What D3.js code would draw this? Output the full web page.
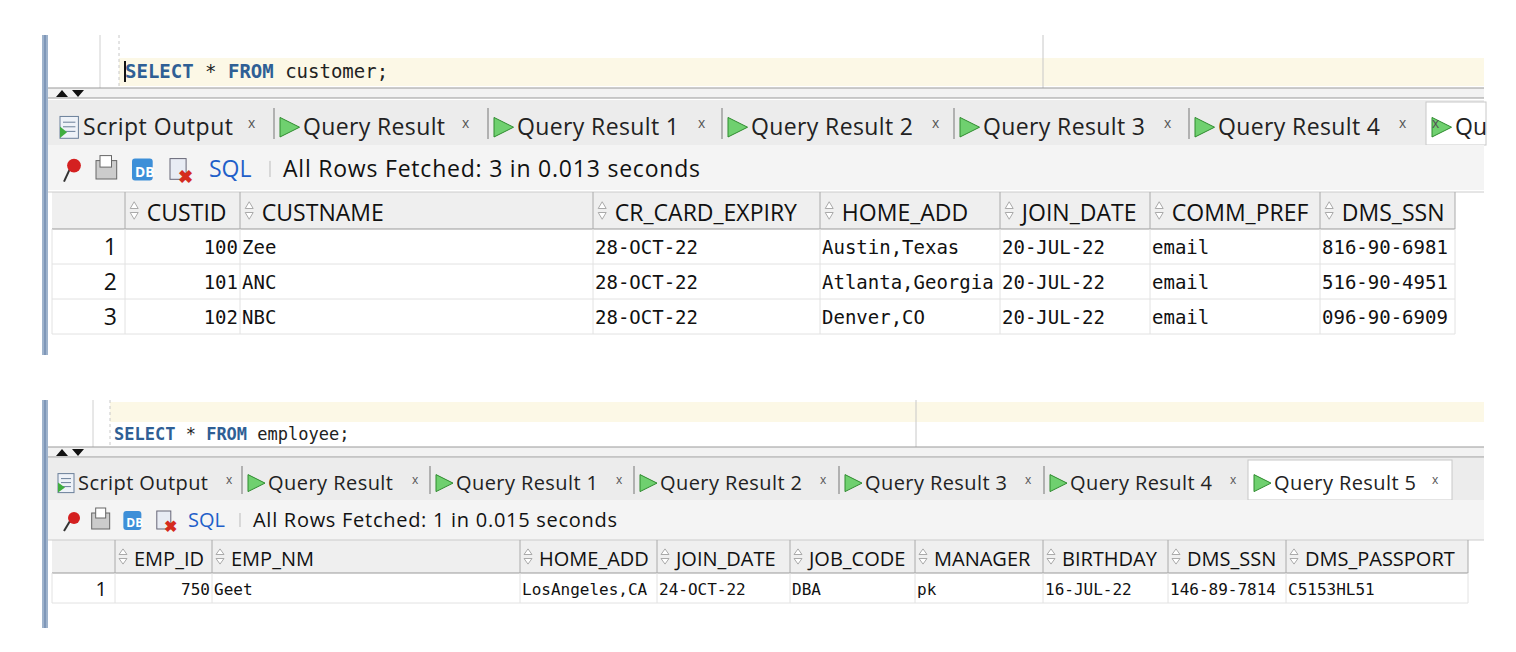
<!DOCTYPE html>
<html><head><meta charset="utf-8">
<script src="https://cdn.jsdelivr.net/npm/d3@7"></script>
<style>body{margin:0;background:#fff}svg{display:block}</style>
</head><body>
<script>
const W = 1516, H = 652;

// Data: customer query
const custQuery = ["SELECT", " * ", "FROM", " customer;"];
const custTabs = ["Script Output", "Query Result", "Query Result 1", "Query Result 2", "Query Result 3", "Query Result 4", "Qu"];
const custStatus = "All Rows Fetched: 3 in 0.013 seconds";
const custCols = ["CUSTID", "CUSTNAME", "CR_CARD_EXPIRY", "HOME_ADD", "JOIN_DATE", "COMM_PREF", "DMS_SSN"];
const custRows = [
  ["100", "Zee", "28-OCT-22", "Austin,Texas", "20-JUL-22", "email", "816-90-6981"],
  ["101", "ANC", "28-OCT-22", "Atlanta,Georgia", "20-JUL-22", "email", "516-90-4951"],
  ["102", "NBC", "28-OCT-22", "Denver,CO", "20-JUL-22", "email", "096-90-6909"]
];

// Data: employee query
const empQuery = ["SELECT", " * ", "FROM", " employee;"];
const empTabs = ["Script Output", "Query Result", "Query Result 1", "Query Result 2", "Query Result 3", "Query Result 4", "Query Result 5"];
const empStatus = "All Rows Fetched: 1 in 0.015 seconds";
const empCols = ["EMP_ID", "EMP_NM", "HOME_ADD", "JOIN_DATE", "JOB_CODE", "MANAGER", "BIRTHDAY", "DMS_SSN", "DMS_PASSPORT"];
const empRows = [
  ["750", "Geet", "LosAngeles,CA", "24-OCT-22", "DBA", "pk", "16-JUL-22", "146-89-7814", "C5153HL51"]
];

const SANS = "'Open Sans', 'Noto Sans', sans-serif";
const MONO = "'DejaVu Sans Mono', monospace";

const svg = d3.select("body").append("svg").attr("width", W).attr("height", H);

function panel(cfg) {
  const g = svg.append("g");
  // left blue bar
  g.append("rect").attr("x", 42).attr("y", cfg.top).attr("width", 6).attr("height", cfg.bottom - cfg.top).attr("fill", "#9fb3cc");
  g.append("rect").attr("x", 44).attr("y", cfg.top).attr("width", 2).attr("height", cfg.bottom - cfg.top).attr("fill", "#7f97b8");

  // editor
  const e = cfg.editor;
  g.append("rect").attr("x", e.hlX).attr("y", e.hlY).attr("width", 1484 - e.hlX).attr("height", e.hlH).attr("fill", "#fcf8e6");
  g.append("line").attr("x1", e.gutter).attr("x2", e.gutter).attr("y1", cfg.top).attr("y2", e.bottom).attr("stroke", "#d0d0d0");
  g.append("line").attr("x1", e.dash).attr("x2", e.dash).attr("y1", cfg.top).attr("y2", e.bottom).attr("stroke", "#c8c8c8").attr("stroke-dasharray", "3,3");
  g.append("line").attr("x1", e.margin).attr("x2", e.margin).attr("y1", cfg.top).attr("y2", e.bottom).attr("stroke", "#c8c8c8");
  const t = g.append("text").attr("x", e.textX).attr("y", e.textY).attr("font-family", MONO).attr("font-size", e.fs).attr("xml:space", "preserve");
  cfg.query.forEach((s, i) => t.append("tspan").text(s)
    .attr("fill", i % 2 === 0 && i < 3 ? "#2f5f95" : "#222").attr("font-weight", i % 2 === 0 && i < 3 ? "bold" : "normal"));
  if (e.caret) g.append("rect").attr("x", e.textX - 1).attr("y", e.textY - 17).attr("width", 2).attr("height", 21).attr("fill", "#111");

  // split bar with arrows
  g.append("rect").attr("x", 48).attr("y", e.bottom).attr("width", 1436).attr("height", 10).attr("fill", "#f2f2f2");
  g.append("line").attr("x1", 48).attr("x2", 1484).attr("y1", e.bottom).attr("y2", e.bottom).attr("stroke", "#999");
  g.append("line").attr("x1", 48).attr("x2", 1484).attr("y1", e.bottom + 10).attr("y2", e.bottom + 10).attr("stroke", "#999");
  const ay = e.bottom + 2;
  g.append("path").attr("d", `M56,${ay + 7}L62,${ay}L68,${ay + 7}Z M72,${ay}L84,${ay}L78,${ay + 7}Z`).attr("fill", "#111");

  // tabs
  const tb = cfg.tabs;
  g.append("rect").attr("x", 48).attr("y", tb.y).attr("width", 1436).attr("height", tb.h).attr("fill", "#ececec");
  tb.names.forEach((name, i) => {
    const x = tb.xs[i];
    const active = i === tb.active;
    if (active) g.append("rect").attr("x", x - 6).attr("y", tb.y + 2).attr("width", tb.activeW).attr("height", tb.h - 2).attr("fill", "#fff").attr("stroke", "#c8c8c8");
    if (i > 0 && !active) g.append("line").attr("x1", x - 6).attr("x2", x - 6).attr("y1", tb.y + 8).attr("y2", tb.y + tb.h - 6).attr("stroke", "#777");
    const iy = tb.base - tb.fs * 0.72;
    if (i === 0) {
      g.append("rect").attr("x", x).attr("y", iy - 2).attr("width", tb.fs * 0.8).attr("height", tb.fs * 0.95).attr("fill", "#eef2f8").attr("stroke", "#6a7f99");
      [0.25, 0.45, 0.65].forEach(f => g.append("line").attr("x1", x + 3).attr("x2", x + tb.fs * 0.8 - 3).attr("y1", iy - 2 + tb.fs * f).attr("y2", iy - 2 + tb.fs * f).attr("stroke", "#6a7f99"));
      g.append("path").attr("d", `M${x},${iy + tb.fs * 0.35}L${x + 7},${iy + tb.fs * 0.6}L${x},${iy + tb.fs * 0.85}Z`).attr("fill", "#3fae3f");
    } else {
      const s = tb.fs * 0.85;
      g.append("path").attr("d", `M${x},${iy - 1}L${x + s},${iy + s / 2 - 1}L${x},${iy + s - 1}Z`).attr("fill", "#6fd06f").attr("stroke", "#2e8b2e");
    }
    g.append("text").attr("x", x + tb.fs * 1.0).attr("y", tb.base).attr("font-family", SANS).attr("font-size", tb.fs).attr("fill", "#222")
      .attr("textLength", tb.lens[i] || null).text(name);
    if (i < tb.names.length - 1 || active) g.append("text").attr("x", x + tb.closeDx[i]).attr("y", tb.base - tb.fs * 0.3).attr("font-family", SANS).attr("font-size", tb.fs * 0.6).attr("fill", "#555").text("x");
  });

  // toolbar
  const tl = cfg.tool;
  g.append("rect").attr("x", 48).attr("y", tb.y + tb.h).attr("width", 1436).attr("height", tl.h).attr("fill", "#f4f4f4");
  const ic = tl.fs;
  const ix = [60, 96, 132, 170].map(v => 60 + (v - 60) * tl.k);
  const iy2 = tl.base - ic * 0.8;
  g.append("path").attr("d", `M${ix[0] + 4},${iy2 + ic}L${ix[0] + 10},${iy2 + 10}`).attr("stroke", "#333").attr("stroke-width", 2);
  g.append("circle").attr("cx", ix[0] + 14).attr("cy", iy2 + 7).attr("r", ic * 0.3).attr("fill", "#d42020");
  g.append("rect").attr("x", ix[1]).attr("y", iy2 + 2).attr("width", ic * 0.9).attr("height", ic * 0.8).attr("fill", "#ccc").attr("stroke", "#666");
  g.append("rect").attr("x", ix[1] + 4).attr("y", iy2 - 3).attr("width", ic * 0.5).attr("height", ic * 0.5).attr("fill", "#fff").attr("stroke", "#666");
  g.append("rect").attr("x", ix[2]).attr("y", iy2).attr("width", ic * 0.9).attr("height", ic * 0.95).attr("rx", 3).attr("fill", "#3d8fd8");
  g.append("text").attr("x", ix[2] + 3).attr("y", iy2 + ic * 0.8).attr("font-family", SANS).attr("font-size", ic * 0.6).attr("font-weight", "bold").attr("fill", "#fff").text("DB");
  g.append("rect").attr("x", ix[3]).attr("y", iy2).attr("width", ic * 0.7).attr("height", ic * 0.9).attr("fill", "#e8ecf4").attr("stroke", "#667");
  g.append("text").attr("x", ix[3] + ic * 0.35).attr("y", iy2 + ic * 1.05).attr("font-family", SANS).attr("font-size", ic * 0.8).attr("font-weight", "bold").attr("fill", "#d52b1e").text("✖");
  g.append("text").attr("x", tl.sqlX).attr("y", tl.base).attr("font-family", SANS).attr("font-size", tl.fs).attr("fill", "#1f5fc9").text("SQL");
  g.append("line").attr("x1", tl.sepX).attr("x2", tl.sepX).attr("y1", tl.base - tl.fs * 0.7).attr("y2", tl.base).attr("stroke", "#bbb");
  g.append("text").attr("x", tl.sepX + 13).attr("y", tl.base).attr("font-family", SANS).attr("font-size", tl.fs).attr("fill", "#111")
    .attr("textLength", tl.len).text(cfg.status);

  // grid
  const gr = cfg.grid;
  const edges = [52, ...gr.edges];
  const y = d3.scaleBand().domain(d3.range(cfg.rows.length)).range([gr.hy + gr.hh, gr.hy + gr.hh + gr.rh * cfg.rows.length]);
  g.append("rect").attr("x", 52).attr("y", gr.hy).attr("width", edges[edges.length - 1] - 52).attr("height", gr.hh).attr("fill", "#efefef");
  g.append("line").attr("x1", 48).attr("x2", 1484).attr("y1", gr.hy).attr("y2", gr.hy).attr("stroke", "#ccc");
  g.append("line").attr("x1", 52).attr("x2", edges[edges.length - 1]).attr("y1", gr.hy + gr.hh).attr("y2", gr.hy + gr.hh).attr("stroke", "#999");
  cfg.cols.forEach((c, i) => {
    const x0 = edges[i + 1];
    g.append("line").attr("x1", x0).attr("x2", x0).attr("y1", gr.hy).attr("y2", gr.hy + gr.hh).attr("stroke", "#aaa");
    // sort indicator (double arrow outline)
    const cx = x0 + gr.hfs * 0.4, cy = gr.hy + gr.hh / 2, a = gr.hfs * 0.38;
    g.append("path").attr("d", `M${cx},${cy - a}L${cx + 4},${cy - 2}L${cx - 4},${cy - 2}Z M${cx},${cy + a}L${cx + 4},${cy + 2}L${cx - 4},${cy + 2}Z`)
      .attr("fill", "#fff").attr("stroke", "#aaa");
    g.append("text").attr("x", x0 + gr.hfs * 0.95).attr("y", gr.hy + gr.hh * 0.78).attr("font-family", SANS).attr("font-size", gr.hfs).attr("fill", "#111").text(c);
  });
  g.append("line").attr("x1", edges[edges.length - 1]).attr("x2", edges[edges.length - 1]).attr("y1", gr.hy).attr("y2", gr.hy + gr.hh).attr("stroke", "#aaa");
  cfg.rows.forEach((row, r) => {
    const y0 = y(r);
    g.append("line").attr("x1", 52).attr("x2", edges[edges.length - 1]).attr("y1", y0 + gr.rh).attr("y2", y0 + gr.rh).attr("stroke", "#e2e2e2");
    g.append("text").attr("x", edges[1] - 8).attr("y", y0 + gr.rh * 0.75).attr("text-anchor", "end").attr("font-family", SANS).attr("font-size", gr.hfs).attr("fill", "#111").text(r + 1);
    edges.forEach((x0, i) => g.append("line").attr("x1", x0).attr("x2", x0).attr("y1", y0).attr("y2", y0 + gr.rh).attr("stroke", "#e2e2e2"));
    row.forEach((v, i) => {
      const num = i === 0;
      g.append("text").attr("x", num ? edges[i + 2] - 2 : edges[i + 1] + 2).attr("y", y0 + gr.rh * 0.72)
        .attr("text-anchor", num ? "end" : "start").attr("font-family", MONO).attr("font-size", gr.dfs).attr("fill", "#111").text(v);
    });
  });
}

panel({
  top: 35, bottom: 355, query: custQuery, status: custStatus, cols: custCols, rows: custRows,
  editor: { hlX: 119, hlY: 58, hlH: 28, gutter: 100, dash: 119, margin: 1043, textX: 125, textY: 78, fs: 19, bottom: 88, caret: true },
  tabs: { y: 100, h: 45, base: 135, fs: 23, active: 6, activeW: 60, lens: [150, 142, 162, 162, 162, 162, null],
    names: custTabs, xs: [60, 280, 494, 728, 960, 1195, 1432], closeDx: [188, 182, 204, 204, 204, 204, 0] },
  tool: { h: 45, base: 177, fs: 23, sqlX: 209, sepX: 270, k: 1, len: 417 },
  grid: { hy: 192, hh: 37, rh: 35, hfs: 23, dfs: 19, edges: [125, 240, 593, 820, 1000, 1150, 1320, 1455] }
});

panel({
  top: 400, bottom: 628, query: empQuery, status: empStatus, cols: empCols, rows: empRows,
  editor: { hlX: 110, hlY: 402, hlH: 20, gutter: 93, dash: 110, margin: 916, textX: 114, textY: 440, fs: 17, bottom: 447, caret: false },
  tabs: { y: 458, h: 42, base: 490, fs: 20, active: 6, activeW: 204, lens: [130, 125, 142, 142, 142, 142, 142],
    names: empTabs, xs: [58, 248, 436, 640, 845, 1050, 1254], closeDx: [168, 164, 180, 180, 180, 180, 178] },
  tool: { h: 40, base: 527, fs: 20, sqlX: 188, sepX: 240, k: 0.88, len: 364 },
  grid: { hy: 540, hh: 33, rh: 30, hfs: 20, dfs: 16, edges: [115, 212, 520, 657, 790, 915, 1043, 1168, 1286, 1468] }
});
</script>
</body></html>
